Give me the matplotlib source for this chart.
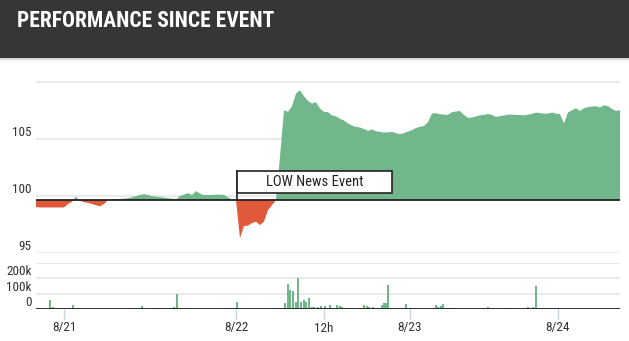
import numpy as np
import matplotlib
matplotlib.use("Agg")
import matplotlib.pyplot as plt
from matplotlib.patches import Rectangle

plt.rcParams['font.family'] = ['Roboto Condensed', 'Roboto', 'DejaVu Sans']

# price relative to the event, one sample per time step
price = [
    99.04, 99.0, 99.0, 99.0, 99.0, 99.0, 99.0, 99.0, 99.3, 99.5,
    99.94, 99.6, 99.47, 99.4, 99.3, 99.2, 99.1, 99.3, 99.65, 99.7,
    99.74, 99.74, 99.78, 99.82, 99.9, 100.0, 100.09, 100.18, 100.09, 100.0,
    99.96, 99.91, 99.87, 99.82, 99.78, 99.7, 100.0, 100.13, 100.26, 100.09,
    100.44, 100.22, 100.09, 100.1, 100.1, 100.13, 100.13, 100.1, 99.9, 99.65,
    99.65, 96.3, 97.37, 97.4, 97.63, 97.75, 97.46, 97.75, 98.77, 99.2,
    99.65, 103.45, 107.54, 107.4, 107.9, 109.0, 109.3, 108.77, 108.36, 108.13,
    108.25, 107.7, 107.4, 107.37, 107.1, 107.0, 106.8, 106.64, 106.38, 106.2,
    106.08, 106.03, 105.9, 105.73, 105.85, 105.7, 105.64, 105.59, 105.6, 105.64,
    105.53, 105.44, 105.53, 105.67, 105.79, 105.99, 106.08, 106.17, 106.49, 107.25,
    107.28, 107.19, 107.16, 107.13, 107.37, 107.43, 107.48, 107.13, 106.87, 106.9,
    107.0, 107.1, 107.13, 107.22, 107.13, 106.96, 107.02, 107.08, 107.16, 107.16,
    107.13, 107.13, 107.1, 107.16, 107.22, 107.34, 107.28, 107.25, 107.25, 107.34,
    107.25, 107.19, 106.38, 107.34, 107.54, 107.72, 107.48, 107.72, 107.81, 107.87,
    107.9, 107.78, 107.98, 107.9, 107.66, 107.48, 107.54,
]
base_price = 99.65
event_time = 50.25
event_label = "LOW News Event"

# traded volume: time step and size
vol_time = [
    3.5, 4.2, 9.3, 14.75, 21.4, 24.75, 26.6, 30.25, 31, 32.25, 33.5, 34.5, 35.2,
    50.2, 56.4, 60.5, 62.25, 63.1, 63.6, 64.25, 65.1, 65.6, 66.25, 67, 67.5,
    68.25, 68.9, 69.5, 70.6, 71.2, 72.25, 73.5, 74.3, 75.3, 76, 76.6, 77.4,
    78.5, 79.25, 80, 81, 82, 82.7, 83.3, 84.3, 85.2, 86.4, 87.1, 87.4, 88.1,
    88.7, 92.4, 100, 100.4, 101.2, 101.8, 102.5, 103.9, 105.25, 106.5, 107.75,
    111.8, 113.1, 113.7, 116, 117.7, 118.9, 122.5, 123.1, 124.3, 124.9,
    135.25, 137.25, 139, 140.75, 141.75,
]
vol_size = [
    58000, 10000, 28000, 3000, 3000, 3000, 20000, 6000, 6000, 3000, 3000, 15000, 100000,
    48000, 3000, 3000, 39000, 161000, 123000, 120000, 47000, 200000, 47000, 58000, 47000,
    71000, 10000, 15000, 10000, 18000, 22000, 28000, 3000, 28000, 22000, 10000, 8000,
    3000, 8000, 8000, 8000, 28000, 18000, 10000, 10000, 6000, 28000, 36000, 42000, 157000,
    6000, 32000, 28000, 15000, 22000, 32000, 8000, 6000, 3000, 3000, 3000,
    8000, 15000, 6000, 3000, 8000, 8000, 6000, 10000, 15000, 150000,
    3000, 3000, 3000, 3000, 3000,
]

tick_pos = [7, 50, 72, 93.5, 130.5]
tick_labels = ['8/21', '8/22', '12h', '8/23', '8/24']

green = '#71b78b'
red = '#e0593a'
grid_col = '#e8e8e8'
text_col = '#333333'

W, H = 629, 341
fig = plt.figure(figsize=(W / 100, H / 100), dpi=100)

# header band
fig.patches.append(Rectangle((0, 1 - 58 / H), 1, 58 / H, transform=fig.transFigure,
                             facecolor='#363636', edgecolor='none', zorder=0))
fig.patches.append(Rectangle((0, 1 - 59.5 / H), 1, 1.5 / H, transform=fig.transFigure,
                             facecolor='#d8d8d8', edgecolor='none', zorder=0))
fig.text(17 / W, 1 - 27 / H, 'PERFORMANCE SINCE EVENT', color='white',
         fontsize=15.5, fontweight='bold', va='baseline', ha='left')

x = np.arange(len(price))
p = np.array(price)

# price panel
ax = fig.add_axes([36 / W, (H - 253) / H, 584 / W, 173 / H])
ax.fill_between(x, base_price, p, where=p >= base_price, interpolate=True,
                color=green, linewidth=0, zorder=2)
ax.fill_between(x, base_price, p, where=p <= base_price, interpolate=True,
                color=red, linewidth=0, zorder=2)
ax.axhline(base_price, color='#222222', linewidth=1.3, zorder=3)
ax.set_xlim(0, len(price) - 1)
ax.set_ylim(95, 110.2)
ax.set_yticks([95, 100, 105, 110])
ax.set_yticklabels(['95', '100', '105', ''])
ax.grid(axis='y', color=grid_col, linewidth=1.3)
ax.set_axisbelow(True)
ax.tick_params(axis='y', length=0, pad=3, labelsize=9.5, labelcolor=text_col)
for lab in ax.get_yticklabels():
    lab.set_va('bottom')
ax.set_xticks([])
for s in ax.spines.values():
    s.set_visible(False)

# event marker box
box_top = 102.19
box_bot = 100.26
box_w = 38.75
ax.plot([event_time, event_time], [base_price, box_top], color='#222222',
        linewidth=1.2, zorder=4)
ax.add_patch(Rectangle((event_time, box_bot), box_w, box_top - box_bot,
                       facecolor='white', edgecolor='#222222', linewidth=1.2, zorder=5))
ax.text(event_time + box_w / 2, (box_top + box_bot) / 2, event_label,
        ha='center', va='center', fontsize=10.5, color='#222222', zorder=6)

# volume panel
axv = fig.add_axes([36 / W, (H - 309) / H, 584 / W, 46 / H])
axv.bar(vol_time, vol_size, width=0.5, color=green, linewidth=0, zorder=2)
axv.axhline(0, color='#222222', linewidth=1.3, zorder=3)
axv.set_xlim(0, len(price) - 1)
axv.set_ylim(0, 300000)
axv.set_yticks([0, 100000, 200000, 300000])
axv.set_yticklabels(['0', '100k', '200k', ''])
axv.grid(axis='y', color=grid_col, linewidth=1.3)
axv.set_axisbelow(True)
axv.tick_params(axis='y', length=0, pad=3, labelsize=9.5, labelcolor=text_col)
for lab in axv.get_yticklabels():
    lab.set_va('bottom')
axv.set_xticks(tick_pos)
axv.set_xticklabels(tick_labels)
axv.tick_params(axis='x', length=7, width=1, color='#c9d0e2', pad=2,
                labelsize=9.5, labelcolor=text_col)
for s in axv.spines.values():
    s.set_visible(False)

fig.savefig('out.png', dpi=100)
